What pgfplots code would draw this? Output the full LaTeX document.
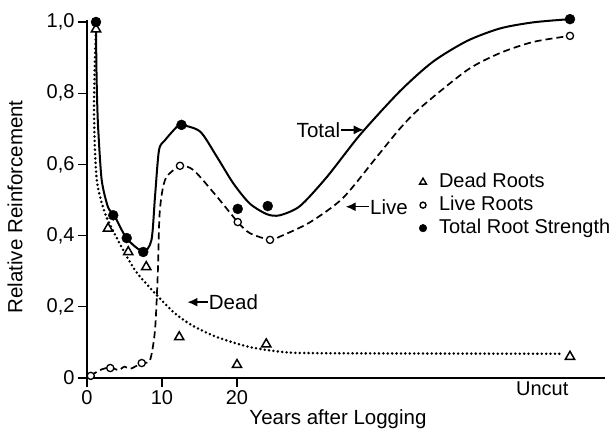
\documentclass[border=0pt]{standalone}
\usepackage{fontspec}
\setmainfont{Liberation Sans}
\usepackage{pgfplots}
\pgfplotsset{compat=1.18}
\usetikzlibrary{arrows.meta}
\begin{document}
\begin{tikzpicture}
\path[use as bounding box] (-87pt,-52pt) rectangle (528pt,378pt);
\begin{axis}[
 at={(0pt,0pt)}, anchor=south west,
 scale only axis, width=518pt, height=358pt,
 xmin=0, xmax=69.07, ymin=0, ymax=1.0056,
 axis x line*=bottom, axis y line*=left,
 axis line style={line width=1.2pt, -},
 clip=false,
 xtick={0,10,20}, xticklabels={0,10,20},
 extra x ticks={60.7}, extra x tick labels={Uncut},
 extra x tick style={major tick length=0pt},
 ytick={0,0.2,0.4,0.6,0.8,1.0},
 yticklabels={0,{0,2},{0,4},{0,6},{0,8},{1,0}},
 tick align=outside, major tick length=9pt,
 tick style={line width=1.1pt, black},
 ticklabel style={font=\fontsize{20}{24}\selectfont},
 xlabel={Years after Logging},
 ylabel={Relative Reinforcement},
 label style={font=\fontsize{20.5}{24}\selectfont},
 xlabel style={at={(axis description cs:0.4845,0)}, anchor=base, yshift=-47pt, inner sep=0pt},
 ylabel style={at={([xshift=-72pt]axis description cs:0,0.478)}, anchor=center, inner sep=0pt},
 legend style={draw=none, fill=none, at={(0.639,0.575)}, anchor=north west,
   inner sep=0pt, outer sep=0pt,
   font=\fontsize{20}{24}\selectfont, row sep=3pt,
   nodes={inner sep=1pt, text height=14pt, text depth=4pt}},
 legend cell align=left,
 legend image code/.code={\path[draw=none, fill=none] (-5pt,0pt) rectangle (15pt,0.1pt); \draw[#1] plot coordinates {(0pt,0pt)};},
]
% legend images
\addlegendimage{only marks, mark=triangle*, mark size=4pt, line width=1.4pt, mark options={fill=white, draw=black}}
\addlegendentry{Dead Roots}
\addlegendimage{only marks, mark=*, mark size=3pt, line width=1.4pt, mark options={fill=white, draw=black}}
\addlegendentry{Live Roots}
\addlegendimage{only marks, mark=*, mark size=3.8pt, black}
\addlegendentry{Total Root Strength}

% Total curve (solid)
\addplot[line width=2pt, smooth, tension=0.45, forget plot] coordinates {
 (1.2,1.0) (1.25,0.88) (1.35,0.78) (1.5,0.697) (1.96,0.556) (2.8,0.48) (3.6,0.458)
 (5.3,0.392) (7.5,0.355) (8.6,0.388) (9.07,0.51) (9.6,0.64) (10.4,0.668) (12,0.706)
 (12.6,0.711) (15.1,0.692) (17.3,0.622) (19.5,0.547) (21.7,0.49) (24,0.46) (25.7,0.457)
 (28.4,0.483) (32,0.565) (36.4,0.683) (41.7,0.805) (46.1,0.888)
 (50.7,0.947) (55.1,0.982) (59.5,0.999) (64.4,1.008)};
% Live curve (dashed)
\addplot[line width=1.7pt, dash pattern=on 7pt off 4pt, smooth, tension=0.45, forget plot] coordinates {
 (0.5,0.006) (1.7,0.022) (3.1,0.03) (4.2,0.022) (5.0,0.032) (5.8,0.026) (7.3,0.042)
 (8.4,0.05) (9.07,0.135) (9.45,0.3) (9.65,0.45) (10.0,0.52) (10.6,0.565) (12.4,0.595)
 (14.2,0.584) (17.3,0.51) (20.1,0.438) (21.7,0.407) (24.4,0.388) (25.7,0.397)
 (29.7,0.437) (34.1,0.505) (38.6,0.62) (41.7,0.7) (44.4,0.758) (50.7,0.865)
 (55.1,0.913) (59.5,0.944) (64.4,0.961)};
% Dead curve (dotted)
\addplot[line width=2.8pt, line cap=round, dash pattern=on 0pt off 4.4pt, smooth, tension=0.45, forget plot] coordinates {
 (1.2,0.975) (1.0,0.85) (0.95,0.72) (1.3,0.556) (2.4,0.463) (4.1,0.388) (6.4,0.303)
 (9.07,0.238) (11.7,0.182) (14,0.148) (17.3,0.115) (21.7,0.087) (26.1,0.073)
 (29.7,0.07) (40,0.069) (63.3,0.068)};

% Data marks
\addplot[only marks, mark=triangle*, mark size=5.3pt, line width=1.5pt,
  mark options={fill=white, draw=black}, forget plot] coordinates {
 (1.2,0.98) (2.8,0.42) (5.5,0.354) (7.9,0.312) (12.3,0.115) (20,0.037) (23.9,0.095) (64.4,0.06)};
\addplot[only marks, mark=*, mark size=3.6pt, line width=1.3pt,
  mark options={fill=white, draw=black}, forget plot] coordinates {
 (0.5,0.006) (3.1,0.028) (7.3,0.042) (12.4,0.596) (20.1,0.438) (24.4,0.388) (64.4,0.961)};
\addplot[only marks, mark=*, mark size=5pt, black, forget plot] coordinates {
 (1.2,1.0) (3.5,0.457) (5.3,0.393) (7.5,0.354) (12.6,0.711) (20.1,0.475) (24.1,0.483) (64.4,1.008)};

% annotations
\draw[-{Latex[length=10pt,width=9pt]}, line width=1.4pt] (axis cs:33.9,0.697) -- (axis cs:36.9,0.697);
\node[anchor=east, font=\fontsize{20.5}{24}\selectfont, inner sep=1pt] at (axis cs:33.9,0.697) {Total};
\draw[-{Latex[length=10pt,width=9pt]}, line width=1.4pt] (axis cs:37.6,0.481) -- (axis cs:34.5,0.481);
\node[anchor=west, font=\fontsize{20.5}{24}\selectfont, inner sep=1pt] at (axis cs:37.6,0.481) {Live};
\draw[-{Latex[length=10pt,width=9pt]}, line width=1.4pt] (axis cs:16.1,0.213) -- (axis cs:13.4,0.213);
\node[anchor=west, font=\fontsize{20.5}{24}\selectfont, inner sep=1pt] at (axis cs:16.1,0.213) {Dead};
\end{axis}
\end{tikzpicture}
\end{document}
